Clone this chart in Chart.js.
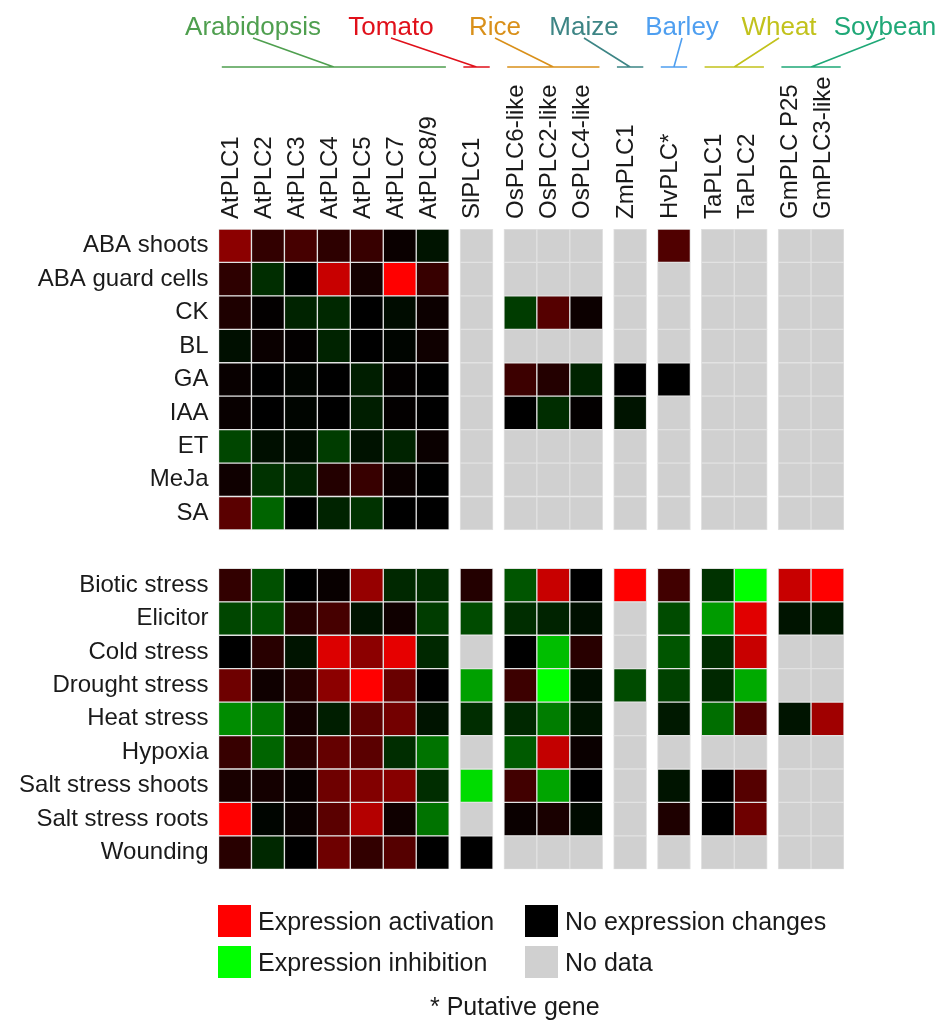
<!DOCTYPE html>
<html><head><meta charset="utf-8">
<script src="https://cdn.jsdelivr.net/npm/chart.js@4.4.1/dist/chart.umd.min.js"></script>
<style>
html,body{margin:0;padding:0;background:#fff;}
#wrap{position:relative;width:937px;height:1021px;overflow:hidden;background:#fff;}
#c{position:absolute;left:0;top:0;}
.lg{position:absolute;font-family:"Liberation Sans",Arial,sans-serif;font-size:25px;color:#1a1a1a;line-height:32px;white-space:nowrap;}
.sw{position:absolute;width:33px;height:32px;}
</style></head><body>
<div id="wrap">
<canvas id="c" width="937" height="1021"></canvas>
<div id="legend"></div>
</div>
<script>
// ---------------- data ----------------
const genes = ['AtPLC1','AtPLC2','AtPLC3','AtPLC4','AtPLC5','AtPLC7','AtPLC8/9','SlPLC1','OsPLC6-like','OsPLC2-like','OsPLC4-like','ZmPLC1','HvPLC*','TaPLC1','TaPLC2','GmPLC P25','GmPLC3-like'];
const species = ['Arabidopsis','Tomato','Rice','Maize','Barley','Wheat','Soybean'];
const speciesGeneCount = [7,1,3,1,1,2,2];
const hormoneRows = ['ABA shoots','ABA guard cells','CK','BL','GA','IAA','ET','MeJa','SA'];
const stressRows = ['Biotic stress','Elicitor','Cold stress','Drought stress','Heat stress','Hypoxia','Salt stress shoots','Salt stress roots','Wounding'];
const N = null;
// signed response level: + activation (red 0..255), - inhibition (green 0..255), null = no data
const hormoneValues = [
  [140, 50, 70, 45, 55, 10,-20,  N,   N,  N,  N,   N, 80,   N,  N,   N,  N],
  [ 45,-45,  0,200, 20,255, 55,  N,   N,  N,  N,   N,  N,   N,  N,   N,  N],
  [ 30,  3,-35,-40,  0,-12, 12,  N, -60, 85, 12,   N,  N,   N,  N,   N,  N],
  [-15, 10,  3,-35,  0, -5, 15,  N,   N,  N,  N,   N,  N,   N,  N,   N,  N],
  [  8,  0, -5,  0,-30,  3,  0,  N,  60, 35,-35,   0,  0,   N,  N,   N,  N],
  [  8,  0, -5,  0,-30,  3,  0,  N,   0,-45,  3, -20,  N,   N,  N,   N,  N],
  [-70,-15,-12,-60,-18,-35, 10,  N,   N,  N,  N,   N,  N,   N,  N,   N,  N],
  [ 15,-50,-35, 35, 55, 10,  0,  N,   N,  N,  N,   N,  N,   N,  N,   N,  N],
  [ 90,-100, 0,-35,-50,  0,  0,  N,   N,  N,  N,   N,  N,   N,  N,   N,  N]
];
const stressValues = [
  [ 50,-80,  0,  8,150,-40,-45,   35, -85, 200,  0, 255, 65,  -50,-255, 200,255],
  [-70,-80, 40, 70,-20, 15,-60,  -75, -45, -35,-15,   N,-75, -155, 225, -20,-25],
  [  0, 40,-20,220,140,230,-40,    N,   0,-190, 40,   N,-85,  -45, 200,   N,  N],
  [110, 15, 35,140,255,105,  0, -160,  60,-255,-15, -75,-65,  -40,-170,   N,  N],
  [-140,-115,20,-30,95,115,-20,  -45, -40,-125,-20,   N,-25, -110,  80, -20,160],
  [ 55,-100,40,100, 90,-45,-115,   N, -90, 195, 10,   N,  N,    N,   N,   N,  N],
  [ 25, 20,  8,110,130,135,-45, -220,  65,-165,  0,   N,-20,    0,  85,   N,  N],
  [255, -5, 10, 90,180, 15,-115,   N,  10,  25,-10,   N, 30,    0, 110,   N,  N],
  [ 40,-40,  0,110, 50, 85,  0,    0,   N,   N,  N,   N,  N,    N,   N,   N,  N]
];
const legendItems = ['Expression activation','No expression changes','Expression inhibition','No data'];
const footnote = '* Putative gene';

// ---------------- layout / style ----------------
const FONT = '"Liberation Sans", Arial, sans-serif';
const speciesColors = ['#4f9f4f','#e0101a','#d9901a','#3d8585','#4f9ff0','#c2c21c','#1fa877'];
const speciesLabelX = [253, 391, 495, 584, 682, 779, 885];
const legendColors = ['#ff0000','#000000','#00ff00','#d0d0d0'];
const GAP_X = 0.33, GAP_Y = 1.15;
const NO_DATA = '#d0d0d0';

const colPos = [];
{ let k = 0;
  speciesGeneCount.forEach((n, gi) => { for (let j = 0; j < n; j++) { colPos.push(k + gi * GAP_X); k++; } });
}
const allRows = hormoneRows.concat(stressRows);
const rowPos = allRows.map((_, i) => i < hormoneRows.length ? i : i + GAP_Y);
const allValues = hormoneValues.concat(stressValues);

function colorFor(v) {
  if (v === null || v === undefined) return NO_DATA;
  if (v >= 0) return `rgb(${v},0,0)`;
  return `rgb(0,${-v},0)`;
}

const cells = [], colors = [];
allValues.forEach((row, ri) => {
  row.forEach((v, ci) => {
    cells.push({ x: colPos[ci], y: [rowPos[ri] - 0.5, rowPos[ri] + 0.5] });
    colors.push(colorFor(v));
  });
});

const headerPlugin = {
  id: 'speciesHeader',
  afterDraw(chart) {
    const { ctx } = chart;
    const x = chart.scales.x;
    let start = 0;
    species.forEach((name, g) => {
      const n = speciesGeneCount[g];
      const first = colPos[start], last = colPos[start + n - 1];
      const x0 = x.getPixelForValue(first - 0.4), x1 = x.getPixelForValue(last + 0.4);
      const xc = (x.getPixelForValue(first) + x.getPixelForValue(last)) / 2;
      const tx = speciesLabelX[g];
      ctx.save();
      ctx.strokeStyle = speciesColors[g];
      ctx.lineWidth = 1.6;
      ctx.beginPath();
      ctx.moveTo(x0, 67); ctx.lineTo(x1, 67);
      ctx.moveTo(xc, 67); ctx.lineTo(tx, 38);
      ctx.stroke();
      ctx.fillStyle = speciesColors[g];
      ctx.font = '26px ' + FONT;
      ctx.textAlign = 'center';
      ctx.textBaseline = 'alphabetic';
      ctx.fillText(name, tx, 35);
      ctx.restore();
      start += n;
    });
  }
};

new Chart(document.getElementById('c'), {
  type: 'bar',
  data: {
    datasets: [{
      data: cells,
      backgroundColor: colors,
      borderColor: '#e2e2e2',
      borderWidth: 1,
      borderSkipped: false,
      categoryPercentage: 1,
      barPercentage: 1
    }]
  },
  options: {
    responsive: false,
    animation: false,
    events: [],
    layout: { padding: { left: 0, top: 0, right: 93, bottom: 151.7 } },
    plugins: { legend: { display: false }, tooltip: { enabled: false } },
    scales: {
      x: {
        type: 'linear',
        position: 'top',
        offset: false,
        min: -0.5,
        max: colPos[colPos.length - 1] + 0.5,
        grid: { display: false, drawTicks: false },
        border: { display: false },
        afterBuildTicks: s => { s.ticks = colPos.map(v => ({ value: v })); },
        afterFit: s => { s.height = 229; },
        ticks: {
          autoSkip: false,
          minRotation: 90, maxRotation: 90,
          padding: 10,
          labelOffset: 25,
          color: '#1a1a1a',
          font: { family: FONT, size: 24 },
          callback: (v, i) => genes[i]
        }
      },
      y: {
        type: 'linear',
        reverse: true,
        min: -0.5,
        max: rowPos[rowPos.length - 1] + 0.5,
        grid: { display: false, drawTicks: false },
        border: { display: false },
        afterBuildTicks: s => { s.ticks = rowPos.map(v => ({ value: v })); },
        afterFit: s => { s.width = 218.5; },
        ticks: {
          autoSkip: false,
          padding: 10,
          color: '#1a1a1a',
          font: { family: FONT, size: 24 },
          callback: (v, i) => allRows[i]
        }
      }
    }
  },
  plugins: [headerPlugin]
});

// legend (HTML)
const lg = document.getElementById('legend');
const legendPos = [[218, 905], [525, 905], [218, 946], [525, 946]];
legendItems.forEach((t, i) => {
  const [lx, ly] = legendPos[i];
  const sw = document.createElement('div');
  sw.className = 'sw';
  sw.style.left = lx + 'px'; sw.style.top = ly + 'px';
  sw.style.background = legendColors[i];
  lg.appendChild(sw);
  const tx = document.createElement('div');
  tx.className = 'lg';
  tx.style.left = (lx + 40) + 'px'; tx.style.top = ly + 'px';
  tx.textContent = t;
  lg.appendChild(tx);
});
const fn = document.createElement('div');
fn.className = 'lg';
fn.style.left = '430px'; fn.style.top = '990px';
fn.textContent = footnote;
lg.appendChild(fn);
</script>
</body></html>
